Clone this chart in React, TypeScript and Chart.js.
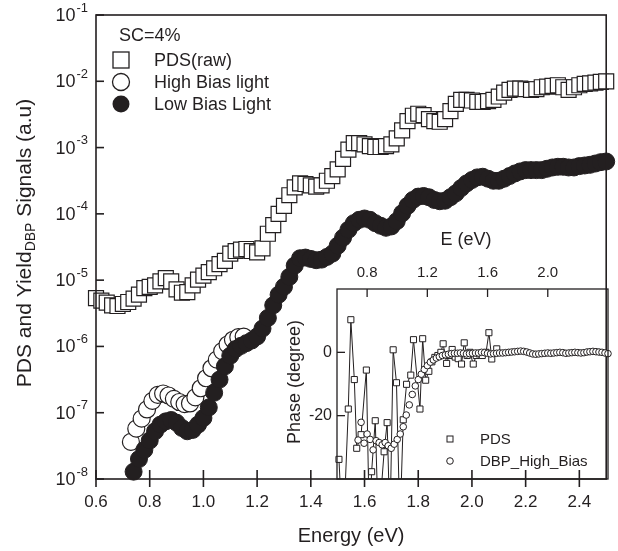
import React, { useEffect, useRef } from 'react';
import { Chart, registerables } from 'chart.js';
Chart.register(...registerables);

const FONT = '"Liberation Sans", Arial, Helvetica, sans-serif';
const INK = '#231f20';

// ---------- main plot data ----------
const pdsEnergy = [
  0.60, 0.62, 0.64, 0.66, 0.68, 0.70, 0.72, 0.74, 0.76, 0.78,
  0.80, 0.82, 0.84, 0.86, 0.88, 0.90, 0.92, 0.94, 0.96, 0.98,
  1.00, 1.02, 1.04, 1.06, 1.08, 1.10, 1.12, 1.14, 1.16, 1.18,
  1.20, 1.22, 1.24, 1.26, 1.28, 1.30, 1.32, 1.34, 1.36, 1.38,
  1.40, 1.42, 1.44, 1.46, 1.48, 1.50, 1.52, 1.54, 1.56, 1.58,
  1.60, 1.62, 1.64, 1.66, 1.68, 1.70, 1.72, 1.74, 1.76, 1.78,
  1.80, 1.82, 1.84, 1.86, 1.88, 1.90, 1.92, 1.94, 1.96, 1.98,
  2.00, 2.02, 2.04, 2.06, 2.08, 2.10, 2.12, 2.14, 2.16, 2.18,
  2.20, 2.22, 2.24, 2.26, 2.28, 2.30, 2.32, 2.34, 2.36, 2.38,
  2.40, 2.42, 2.44, 2.46, 2.48, 2.50,
];
const pdsSignal = [
  5.37e-6, 4.9e-6, 4.57e-6, 4.17e-6, 4.07e-6, 4.37e-6, 4.68e-6, 5.25e-6, 6.03e-6, 7.59e-6,
  7.94e-6, 8.32e-6, 9.55e-6, 1.07e-5, 9.55e-6, 7.24e-6, 6.46e-6, 6.61e-6, 8.32e-6, 1.02e-5,
  1.17e-5, 1.32e-5, 1.51e-5, 1.74e-5, 1.95e-5, 2.51e-5, 2.75e-5, 2.88e-5, 2.95e-5, 2.75e-5,
  2.63e-5, 3.02e-5, 5.01e-5, 6.76e-5, 1.0e-4, 1.32e-4, 1.91e-4, 2.51e-4, 2.88e-4, 2.82e-4,
  2.69e-4, 2.57e-4, 2.69e-4, 3.16e-4, 3.72e-4, 4.68e-4, 6.76e-4, 9.33e-4, 1.17e-3, 1.17e-3,
  1.12e-3, 1.05e-3, 1.02e-3, 1.02e-3, 1.05e-3, 1.12e-3, 1.38e-3, 1.82e-3, 2.51e-3, 3.02e-3,
  3.24e-3, 3.09e-3, 2.69e-3, 2.51e-3, 2.45e-3, 2.69e-3, 3.55e-3, 4.57e-3, 5.25e-3, 5.25e-3,
  5.13e-3, 4.9e-3, 4.9e-3, 5.01e-3, 5.25e-3, 5.89e-3, 6.76e-3, 7.41e-3, 7.76e-3, 7.76e-3,
  7.59e-3, 7.41e-3, 7.59e-3, 8.13e-3, 8.32e-3, 8.51e-3, 8.71e-3, 8.13e-3, 7.41e-3, 8.13e-3,
  8.71e-3, 9.12e-3, 9.33e-3, 9.55e-3, 9.77e-3, 1.0e-2,
];

const lowBiasEnergy = [
  0.74, 0.76, 0.78, 0.80, 0.82, 0.84, 0.86, 0.88, 0.90, 0.92,
  0.94, 0.96, 0.98, 1.00, 1.02, 1.04, 1.06, 1.08, 1.10, 1.12,
  1.14, 1.16, 1.18, 1.20, 1.22, 1.24, 1.26, 1.28, 1.30, 1.32,
  1.34, 1.36, 1.38, 1.40, 1.42, 1.44, 1.46, 1.48, 1.50, 1.52,
  1.54, 1.56, 1.58, 1.60, 1.62, 1.64, 1.66, 1.68, 1.70, 1.72,
  1.74, 1.76, 1.78, 1.80, 1.82, 1.84, 1.86, 1.88, 1.90, 1.92,
  1.94, 1.96, 1.98, 2.00, 2.02, 2.04, 2.06, 2.08, 2.10, 2.12,
  2.14, 2.16, 2.18, 2.20, 2.22, 2.24, 2.26, 2.28, 2.30, 2.32,
  2.34, 2.36, 2.38, 2.40, 2.42, 2.44, 2.46, 2.48, 2.50,
];
const lowBiasSignal = [
  1.29e-8, 2.0e-8, 2.75e-8, 3.8e-8, 5.25e-8, 6.61e-8, 7.41e-8, 7.76e-8, 7.08e-8, 5.89e-8,
  5.25e-8, 5.5e-8, 6.61e-8, 8.32e-8, 1.2e-7, 2.0e-7, 3.16e-7, 5.01e-7, 7.24e-7, 9.12e-7,
  1.02e-6, 1.12e-6, 1.23e-6, 1.41e-6, 1.86e-6, 2.69e-6, 4.17e-6, 6.03e-6, 7.94e-6, 1.12e-5,
  1.66e-5, 2.14e-5, 2.19e-5, 2.09e-5, 2.0e-5, 2.04e-5, 2.24e-5, 2.51e-5, 3.31e-5, 4.37e-5,
  5.75e-5, 7.24e-5, 8.13e-5, 8.51e-5, 8.13e-5, 7.24e-5, 6.61e-5, 6.17e-5, 6.46e-5, 7.76e-5,
  1.02e-4, 1.32e-4, 1.62e-4, 1.82e-4, 1.86e-4, 1.78e-4, 1.62e-4, 1.55e-4, 1.58e-4, 1.78e-4,
  2.04e-4, 2.45e-4, 2.88e-4, 3.24e-4, 3.55e-4, 3.63e-4, 3.39e-4, 3.16e-4, 3.16e-4, 3.39e-4,
  3.72e-4, 4.07e-4, 4.37e-4, 4.57e-4, 4.57e-4, 4.57e-4, 4.57e-4, 4.79e-4, 5.01e-4, 5.13e-4,
  5.13e-4, 5.01e-4, 5.01e-4, 5.25e-4, 5.37e-4, 5.5e-4, 5.75e-4, 6.03e-4, 6.17e-4,
];

const highBiasEnergy = [
  0.73, 0.75, 0.77, 0.79, 0.81, 0.83, 0.85, 0.87, 0.89, 0.91, 0.93,
  0.95, 0.97, 0.99, 1.01, 1.03, 1.05, 1.07, 1.09, 1.11, 1.13, 1.15,
];
const highBiasSignal = [
  3.63e-8, 5.75e-8, 8.13e-8, 1.12e-7, 1.51e-7, 1.86e-7, 1.95e-7, 1.82e-7, 1.62e-7, 1.45e-7, 1.35e-7,
  1.38e-7, 1.70e-7, 2.34e-7, 3.31e-7, 4.68e-7, 6.31e-7, 8.51e-7, 1.07e-6, 1.26e-6, 1.38e-6, 1.41e-6,
];

const xTickValues = [0.6, 0.8, 1.0, 1.2, 1.4, 1.6, 1.8, 2.0, 2.2, 2.4];
const xTickLabels = ['0.6', '0.8', '1.0', '1.2', '1.4', '1.6', '1.8', '2.0', '2.2', '2.4'];
const yTickValues = [1e-8, 1e-7, 1e-6, 1e-5, 1e-4, 1e-3, 1e-2, 1e-1];
const yTickExponents = ['-8', '-7', '-6', '-5', '-4', '-3', '-2', '-1'];
const legendTitle = 'SC=4%';
const legendLabels = ['PDS(raw)', 'High Bias light', 'Low Bias Light'];
const xTitle = 'Energy (eV)';
const yTitleMain = 'PDS and Yield';
const yTitleSub = 'DBP';
const yTitleEnd = ' Signals (a.u)';

// ---------- inset data ----------
const phasePdsEnergy = [
  0.613, 0.64, 0.675, 0.692, 0.715, 0.731, 0.76, 0.795, 0.815, 0.83,
  0.854, 0.875, 0.913, 0.933, 0.952, 0.973, 0.995, 1.018, 1.04, 1.062,
  1.09, 1.108, 1.151, 1.169, 1.189, 1.21, 1.23, 1.25, 1.27, 1.29,
  1.305, 1.328, 1.345, 1.365, 1.385, 1.405, 1.427, 1.445, 1.465, 1.483,
  1.505, 1.525, 1.545, 1.565, 1.59, 1.609, 1.628, 1.661,
];
const phasePds = [
  -33.8, -60, -17.9, 10.3, -8.6, -30.3, -26, -5.6, -55, -37.7,
  -21.6, -55, -31.4, -22.2, -55, 0.8, -9.6, -55, -21.3, -10.1,
  -7.2, 4.0, -17.9, 4.3, -8.8, -6, -3, -1.6, -1, 0,
  2.7, -3.5, -1, 0.9, -1.5, -2, -3.7, 3.0, -1, 0,
  -3.7, -1, -0.5, -1, 0, 6.2, -2.1, 1.1,
];
const phaseDbpEnergy = [
  0.74, 0.76, 0.78, 0.80, 0.82, 0.84, 0.86, 0.88, 0.90, 0.92,
  0.94, 0.96, 0.98, 1.00, 1.02, 1.04, 1.06, 1.08, 1.10, 1.12,
  1.14, 1.16, 1.18, 1.20, 1.22, 1.24, 1.26, 1.28, 1.30, 1.32,
  1.34, 1.36, 1.38, 1.40, 1.42, 1.44, 1.46, 1.48, 1.50, 1.52,
  1.54, 1.56, 1.58, 1.60, 1.62, 1.64, 1.66, 1.68, 1.70, 1.72,
  1.74, 1.76, 1.78, 1.80, 1.82, 1.84, 1.86, 1.88, 1.90, 1.92,
  1.94, 1.96, 1.98, 2.00, 2.02, 2.04, 2.06, 2.08, 2.10, 2.12,
  2.14, 2.16, 2.18, 2.20, 2.22, 2.24, 2.26, 2.28, 2.30, 2.32,
  2.34, 2.36, 2.38, 2.40,
];
const phaseDbp = [
  -27.7, -22.1, -28.7, -25.8, -27.5, -30.8, -27.9, -28.5, -29.2, -28.5,
  -29.5, -30.3, -29.0, -27.5, -25.8, -23.5, -19.8, -16.6, -13.3, -10.6,
  -8.6, -6.9, -5.4, -4.2, -3.1, -2.4, -1.8, -1.4, -1.0, -0.8,
  -0.6, -0.4, -0.3, -0.3, -0.2, -0.3, -0.5, -0.4, -0.3, -0.2,
  -0.2, 0.0, -0.1, -0.3, -0.5, -0.4, -0.3, -0.2, -0.2, -0.1,
  0.0, 0.1, 0.2, 0.3, 0.4, 0.3, 0.1, -0.2, -0.5, -0.6,
  -0.5, -0.4, -0.3, -0.2, -0.3, -0.2, -0.1, 0.0, -0.1, -0.3,
  -0.2, -0.1, 0.0, -0.1, -0.2, -0.1, 0.1, 0.2, 0.3, 0.2,
  0.1, 0.0, -0.2, -0.4,
];
const insetXTickValues = [0.8, 1.2, 1.6, 2.0];
const insetXTickLabels = ['0.8', '1.2', '1.6', '2.0'];
const insetYTickValues = [0, -20];
const insetYTickLabels = ['0', '-20'];
const insetXTitle = 'E (eV)';
const insetYTitle = 'Phase (degree)';
const insetLegendLabels = ['PDS', 'DBP_High_Bias'];

const toPoints = (xs: number[], ys: number[]) => xs.map((x, i) => ({ x, y: ys[i] }));

function line(ctx: CanvasRenderingContext2D, x1: number, y1: number, x2: number, y2: number) {
  ctx.beginPath();
  ctx.moveTo(x1, y1);
  ctx.lineTo(x2, y2);
  ctx.stroke();
}

const mainDecor = {
  id: 'mainDecor',
  afterDatasetsDraw(chart: any) {
    const { ctx, chartArea: a, scales } = chart;
    const x = scales.x;
    const y = scales.y;
    ctx.save();
    ctx.strokeStyle = INK;
    ctx.fillStyle = INK;
    ctx.lineWidth = 1.6;
    ctx.strokeRect(a.left, a.top, a.right - a.left, a.bottom - a.top);

    // x ticks + labels
    ctx.font = `17px ${FONT}`;
    ctx.textAlign = 'center';
    ctx.textBaseline = 'middle';
    xTickValues.forEach((v, i) => {
      const px = x.getPixelForValue(v);
      line(ctx, px, a.bottom - 9, px, a.bottom + 8);
      ctx.fillText(xTickLabels[i], px, a.bottom + 23);
    });

    // y ticks + labels with superscripts
    yTickValues.forEach((v, i) => {
      const py = y.getPixelForValue(v);
      line(ctx, a.left, py, a.left + 8, py);
      ctx.font = `13px ${FONT}`;
      const we = ctx.measureText(yTickExponents[i]).width;
      ctx.font = `18px ${FONT}`;
      const wb = ctx.measureText('10').width;
      const right = a.left - 8;
      ctx.textAlign = 'left';
      ctx.fillText('10', right - we - wb - 1, py + 1);
      ctx.font = `13px ${FONT}`;
      ctx.fillText(yTickExponents[i], right - we, py - 7);
    });

    // x title
    ctx.font = `20px ${FONT}`;
    ctx.textAlign = 'center';
    ctx.fillText(xTitle, (a.left + a.right) / 2, 536);

    // y title rotated with subscript
    const big = `21px ${FONT}`;
    const small = `14px ${FONT}`;
    ctx.font = big;
    const w1 = ctx.measureText(yTitleMain).width;
    const w3 = ctx.measureText(yTitleEnd).width;
    ctx.font = small;
    const w2 = ctx.measureText(yTitleSub).width;
    const total = w1 + w2 + w3;
    ctx.save();
    ctx.translate(25, (a.top + a.bottom) / 2 - 4);
    ctx.rotate(-Math.PI / 2);
    ctx.textAlign = 'left';
    ctx.textBaseline = 'middle';
    let cx = -total / 2;
    ctx.font = big;
    ctx.fillText(yTitleMain, cx, 0);
    cx += w1;
    ctx.font = small;
    ctx.fillText(yTitleSub, cx, 6);
    cx += w2;
    ctx.font = big;
    ctx.fillText(yTitleEnd, cx, 0);
    ctx.restore();

    // legend
    ctx.font = `18px ${FONT}`;
    ctx.textAlign = 'left';
    ctx.textBaseline = 'middle';
    ctx.fillText(legendTitle, 119, 36);
    const mx = 121;
    const rows = [60, 82, 104];
    ctx.lineWidth = 1.3;
    ctx.fillStyle = '#fff';
    ctx.fillRect(mx - 8, rows[0] - 8, 16, 16);
    ctx.strokeRect(mx - 8, rows[0] - 8, 16, 16);
    ctx.beginPath();
    ctx.arc(mx, rows[1], 8.5, 0, Math.PI * 2);
    ctx.fill();
    ctx.stroke();
    ctx.fillStyle = INK;
    ctx.beginPath();
    ctx.arc(mx, rows[2], 8.5, 0, Math.PI * 2);
    ctx.fill();
    legendLabels.forEach((t, i) => ctx.fillText(t, 154, rows[i] + 1));
    ctx.restore();
  },
};

const insetDecor = {
  id: 'insetDecor',
  afterDatasetsDraw(chart: any) {
    const { ctx, chartArea: a, scales } = chart;
    const x = scales.x;
    const y = scales.y;
    ctx.save();
    ctx.strokeStyle = INK;
    ctx.fillStyle = INK;
    ctx.lineWidth = 1.3;
    ctx.strokeRect(a.left, a.top, a.right - a.left, a.bottom - a.top);

    ctx.font = `15px ${FONT}`;
    ctx.textAlign = 'center';
    ctx.textBaseline = 'middle';
    insetXTickValues.forEach((v, i) => {
      const px = x.getPixelForValue(v);
      line(ctx, px, a.top, px, a.top + 8);
      ctx.fillText(insetXTickLabels[i], px, a.top - 16);
    });
    ctx.font = `16px ${FONT}`;
    ctx.textAlign = 'right';
    insetYTickValues.forEach((v, i) => {
      const py = y.getPixelForValue(v);
      line(ctx, a.left, py, a.left + 8, py);
      ctx.fillText(insetYTickLabels[i], a.left - 5, py);
    });

    ctx.font = `18px ${FONT}`;
    ctx.textAlign = 'center';
    ctx.fillText(insetXTitle, a.left + 129, a.top - 49);

    ctx.save();
    ctx.translate(a.left - 42, (a.top + a.bottom) / 2 - 2);
    ctx.rotate(-Math.PI / 2);
    ctx.fillText(insetYTitle, 0, 0);
    ctx.restore();

    // legend
    const lx = a.left + 113;
    const r1 = a.bottom - 40;
    const r2 = a.bottom - 18;
    ctx.lineWidth = 1;
    ctx.fillStyle = '#fff';
    ctx.fillRect(lx - 3, r1 - 3, 6, 6);
    ctx.strokeRect(lx - 3, r1 - 3, 6, 6);
    ctx.beginPath();
    ctx.arc(lx, r2, 3.3, 0, Math.PI * 2);
    ctx.fill();
    ctx.stroke();
    ctx.fillStyle = INK;
    ctx.font = `15px ${FONT}`;
    ctx.textAlign = 'left';
    insetLegendLabels.forEach((t, i) => ctx.fillText(t, lx + 30, i === 0 ? r1 + 1 : r2 + 1));
    ctx.restore();
  },
};

export default function App() {
  const mainRef = useRef<HTMLCanvasElement | null>(null);
  const insetRef = useRef<HTMLCanvasElement | null>(null);

  useEffect(() => {
    const main = new Chart(mainRef.current as HTMLCanvasElement, {
      type: 'scatter',
      data: {
        datasets: [
          {
            label: legendLabels[2],
            data: toPoints(lowBiasEnergy, lowBiasSignal),
            pointStyle: 'circle',
            pointRadius: 8.5,
            pointBackgroundColor: INK,
            pointBorderColor: INK,
            pointBorderWidth: 1,
            showLine: false,
            clip: false,
            order: 0,
          } as any,
          {
            label: legendLabels[1],
            data: toPoints(highBiasEnergy, highBiasSignal),
            pointStyle: 'circle',
            pointRadius: 8.5,
            pointBackgroundColor: '#fff',
            pointBorderColor: INK,
            pointBorderWidth: 1.2,
            showLine: false,
            clip: false,
            order: 1,
          },
          {
            label: legendLabels[0],
            data: toPoints(pdsEnergy, pdsSignal),
            pointStyle: 'rect',
            pointRadius: 10.6,
            pointBackgroundColor: '#fff',
            pointBorderColor: INK,
            pointBorderWidth: 1.2,
            showLine: false,
            clip: false,
            order: 2,
          },
        ],
      },
      options: {
        animation: false,
        responsive: false,
        maintainAspectRatio: false,
        events: [],
        layout: { padding: { left: 96, top: 15, right: 10, bottom: 72 } },
        scales: {
          x: { type: 'linear', min: 0.6, max: 2.5, display: false },
          y: { type: 'logarithmic', min: 1e-8, max: 1e-1, display: false },
        },
        plugins: { legend: { display: false }, tooltip: { enabled: false } },
      },
      plugins: [mainDecor],
    });

    const inset = new Chart(insetRef.current as HTMLCanvasElement, {
      type: 'scatter',
      data: {
        datasets: [
          {
            label: insetLegendLabels[1],
            data: toPoints(phaseDbpEnergy, phaseDbp),
            pointStyle: 'circle',
            pointRadius: 3.3,
            pointBackgroundColor: '#fff',
            pointBorderColor: INK,
            pointBorderWidth: 1,
            showLine: false,
            clip: false,
            order: 0,
          } as any,
          {
            label: insetLegendLabels[0],
            data: toPoints(phasePdsEnergy, phasePds),
            pointStyle: 'rect',
            pointRadius: 4.3,
            pointBackgroundColor: '#fff',
            pointBorderColor: INK,
            pointBorderWidth: 1,
            showLine: true,
            borderColor: INK,
            borderWidth: 1,
            clip: { left: 6, top: 6, right: 6, bottom: 0 },
            order: 1,
          },
        ],
      },
      options: {
        animation: false,
        responsive: false,
        maintainAspectRatio: false,
        events: [],
        layout: { padding: { left: 77, top: 69, right: 10, bottom: 21 } },
        scales: {
          x: { type: 'linear', min: 0.6, max: 2.4, display: false },
          y: { type: 'linear', min: -40, max: 20, display: false },
        },
        plugins: { legend: { display: false }, tooltip: { enabled: false } },
      },
      plugins: [insetDecor],
    });

    return () => {
      main.destroy();
      inset.destroy();
    };
  }, []);

  return (
    <div style={{ position: 'fixed', left: 0, top: 0, width: 618, height: 551, background: '#fff' }}>
      <canvas
        ref={mainRef}
        width={618}
        height={551}
        style={{ position: 'absolute', left: 0, top: 0, width: 618, height: 551 }}
      />
      <canvas
        ref={insetRef}
        width={358}
        height={280}
        style={{ position: 'absolute', left: 260, top: 220, width: 358, height: 280 }}
      />
    </div>
  );
}
